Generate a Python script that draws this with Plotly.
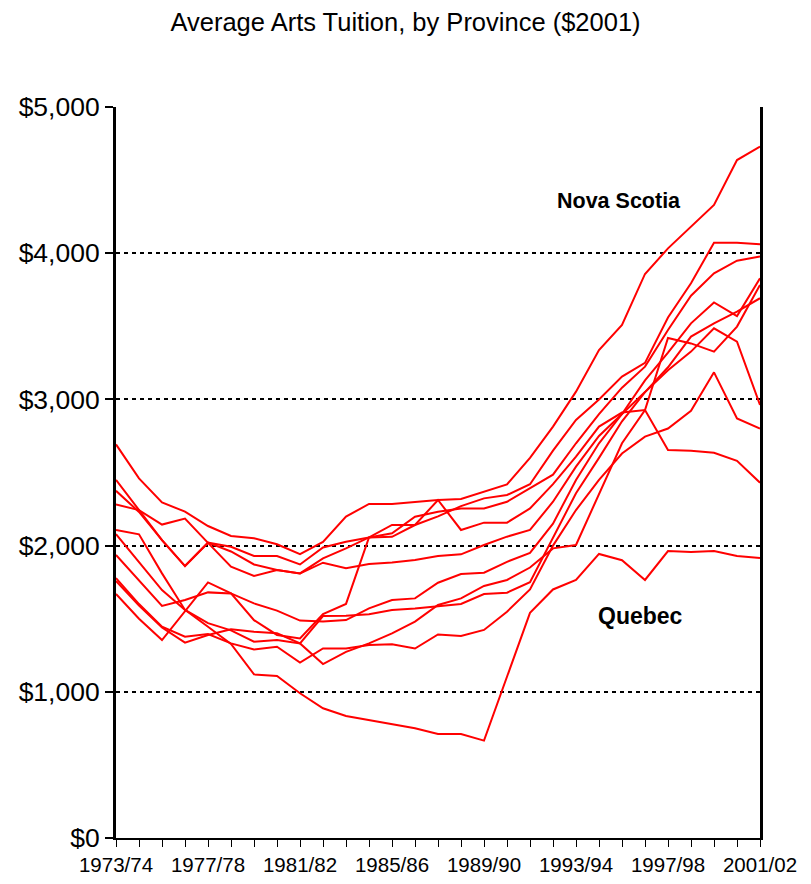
import plotly.graph_objects as go

years = ["1973/74","1974/75","1975/76","1976/77","1977/78","1978/79","1979/80","1980/81",
         "1981/82","1982/83","1983/84","1984/85","1985/86","1986/87","1987/88","1988/89",
         "1989/90","1990/91","1991/92","1992/93","1993/94","1994/95","1995/96","1996/97",
         "1997/98","1998/99","1999/00","2000/01","2001/02"]

tick_labels = ["1973/74","1977/78","1981/82","1985/86","1989/90","1993/94","1997/98","2001/02"]

nova_scotia = [2692,2460,2296,2232,2134,2066,2050,2009,1941,2025,2198,2285,2285,2300,2312,2319,
               2369,2419,2600,2814,3053,3338,3509,3858,4033,4181,4330,4637,4729]
quebec = [2107,2077,1810,1560,1445,1327,1119,1108,990,887,834,807,780,750,711,711,
          666,1100,1540,1700,1765,1943,1900,1765,1963,1956,1963,1929,1915]
prov_b = [2375,2230,2038,1860,2020,1960,1871,1833,1810,1913,1981,2056,2060,2141,2200,2270,
          2323,2346,2420,2650,2859,3000,3156,3250,3560,3794,4072,4072,4061]
prov_c = [2449,2244,2038,1860,2020,1992,1929,1929,1871,1987,2026,2056,2084,2198,2232,2254,
          2254,2300,2391,2485,2700,2900,3080,3224,3475,3709,3862,3949,3977]
prov_d = [1936,1760,1587,1628,1680,1673,1605,1555,1487,1480,1491,1571,1628,1639,1746,1806,
          1815,1889,1950,2150,2449,2700,2900,3130,3320,3520,3663,3570,3829]
prov_e = [2079,1890,1696,1560,1470,1420,1343,1354,1331,1518,1520,1530,1560,1570,1587,1601,
          1669,1678,1750,2050,2358,2600,2850,3050,3200,3327,3486,3395,2962]
prov_f = [1758,1590,1440,1336,1389,1427,1410,1400,1331,1190,1273,1331,1399,1480,1594,1639,
          1724,1765,1850,1981,2004,2350,2700,2927,3420,3383,3327,3498,3783]
prov_g = [2282,2243,2144,2185,2019,1856,1792,1833,1810,1883,1845,1874,1885,1901,1929,1940,
          2004,2061,2107,2300,2540,2750,2900,3050,3220,3430,3520,3600,3692]
prov_h = [1669,1500,1354,1551,1748,1673,1490,1389,1365,1532,1601,2056,2141,2141,2312,2107,
          2157,2157,2254,2420,2608,2814,2910,2927,2654,2649,2635,2580,2430]
prov_i = [1778,1600,1445,1377,1395,1331,1290,1308,1200,1296,1296,1320,1325,1296,1392,1382,
          1423,1548,1700,2000,2243,2450,2630,2745,2801,2922,3185,2870,2801]

series = [nova_scotia, quebec, prov_b, prov_c, prov_d, prov_e, prov_f, prov_g, prov_h, prov_i]

fig = go.Figure()
xs = list(range(len(years)))
for s in series:
    fig.add_trace(go.Scatter(x=xs, y=s, mode="lines",
                             line=dict(color="#FF0000", width=2),
                             showlegend=False, hoverinfo="skip"))

fig.update_layout(
    width=811, height=884,
    margin=dict(l=116, r=51, t=107, b=46),
    paper_bgcolor="white", plot_bgcolor="white",
    font=dict(family="Arial, Liberation Sans, sans-serif", color="black"),
    title=dict(text="Average Arts Tuition, by Province ($2001)",
               x=0.5, xref="container", xanchor="center", y=0.975, yanchor="middle",
               font=dict(size=25.5, family="Arial, Liberation Sans, sans-serif")),
    xaxis=dict(range=[0, 28], tickmode="array", automargin=False,
               tickvals=[xs[years.index(t)] for t in tick_labels], ticktext=tick_labels,
               ticks="outside", ticklen=7, tickwidth=1, tickcolor="black",
               minor=dict(tickmode="linear", tick0=0, dtick=1, ticks="outside",
                          ticklen=7, tickcolor="black"),
               showgrid=False, zeroline=False, showline=True, linecolor="black", linewidth=2,
               tickfont=dict(size=20.5),
               fixedrange=True),
    yaxis=dict(range=[0, 5000], tickmode="linear", tick0=0, dtick=1000, automargin=False,
               tickprefix="$", tickformat=",d",
               ticks="outside", ticklen=8, tickwidth=2, tickcolor="black",
               showgrid=True, gridcolor="black", griddash="4px,4px", gridwidth=1.5,
               zeroline=False, showline=True, linecolor="black", linewidth=3, mirror=True,
               tickfont=dict(size=26.5), ticklabelstandoff=0, fixedrange=True),
    annotations=[
        dict(text="<b>Nova Scotia</b>", x=21.85, y=4360, xref="x", yref="y",
             showarrow=False, font=dict(size=21.5)),
        dict(text="<b>Quebec</b>", x=22.8, y=1520, xref="x", yref="y",
             showarrow=False, font=dict(size=23)),
    ],
)

fig.write_html("out.html", config={"displayModeBar": False},
               post_script="document.body.style.margin='0px';")
